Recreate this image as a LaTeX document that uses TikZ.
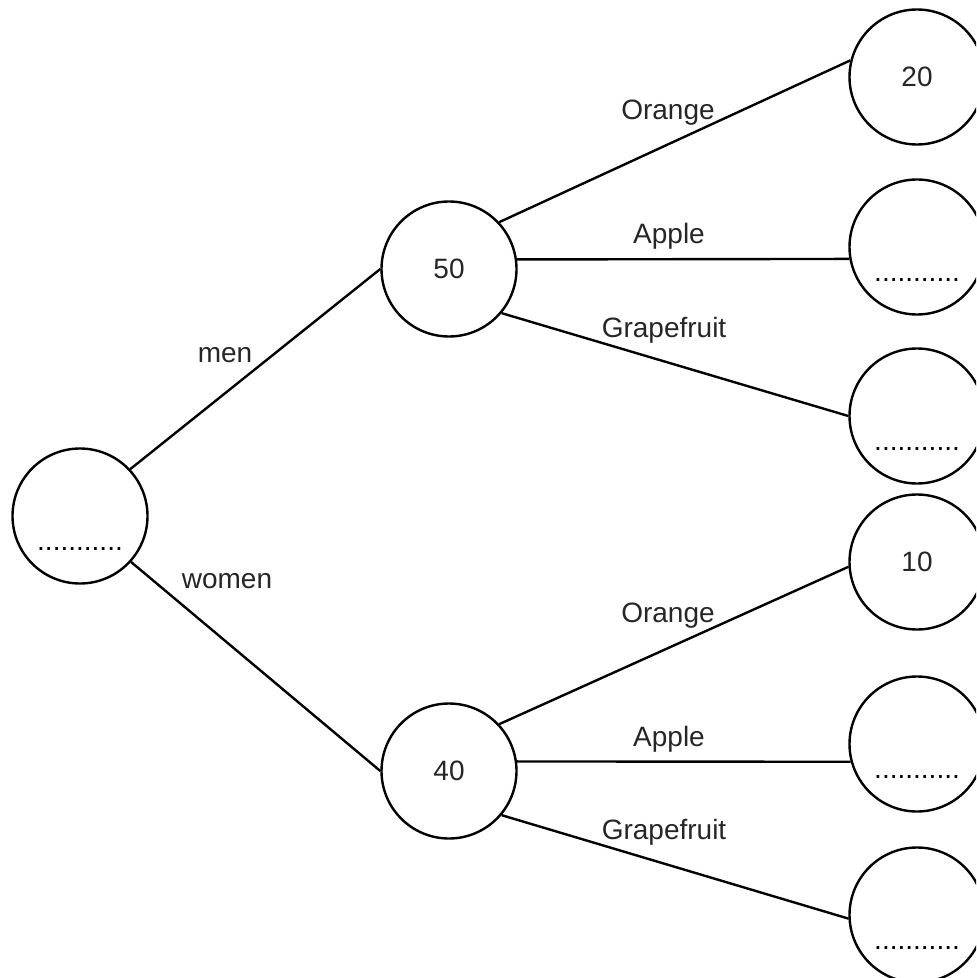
\documentclass[tikz,border=0pt]{standalone}
\usepackage{fontspec}
\setmainfont{Liberation Sans}
\usetikzlibrary{positioning}

\begin{document}
\begin{tikzpicture}[
    x=0.5pt, y=-0.5pt,
    font=\fontsize{14}{16}\selectfont,
    circ/.style={draw, circle, minimum size=67.5pt, inner sep=0pt, line width=1.2pt, text=black!85},
    blank/.style={circ, label={[anchor=base, yshift=-16.5pt]center:...........}},
    lbl/.style={anchor=base, text=black!85},
    branch/.style={line width=1.2pt}
]
\clip (0,0) rectangle (976,978);

% people
\node[blank] (root) at (80,516) {};
\node[circ] (n50) at (449,269) {50};
\node[circ] (n40) at (449,771) {40};

% fruit
\node[circ] (m1) at (917,77) {20};
\node[blank] (m2) at (917,247) {};
\node[blank] (m3) at (917,416) {};
\node[circ] (w1) at (917,562) {10};
\node[blank] (w2) at (917,744) {};
\node[blank] (w3) at (917,915) {};

\draw[branch] (root.43) -- (n50.west);
\draw[branch] (root.-42) -- (n40.west);
\draw[branch] (n50.43) -- (m1.166);
\draw[branch] (n50.8) -- (m2.190);
\draw[branch] (n50.-40) -- (m3.west);
\draw[branch] (n40.43) -- (w1.184);
\draw[branch] (n40.8) -- (w2.195);
\draw[branch] (n40.-40) -- (w3.183);

\node[lbl] (lmen) at (225,362) {men};
\node[lbl] (lwomen) at (227,588) {women};
\node[lbl] (lorange1) at (668,120) {Orange};
\node[lbl] (lapple1) at (669,244) {Apple};
\node[lbl] (lgrape1) at (664,337) {Grapefruit};
\node[lbl] (lorange2) at (668,622) {Orange};
\node[lbl] (lapple2) at (669,746) {Apple};
\node[lbl] (lgrape2) at (664,839) {Grapefruit};
\end{tikzpicture}
\end{document}
